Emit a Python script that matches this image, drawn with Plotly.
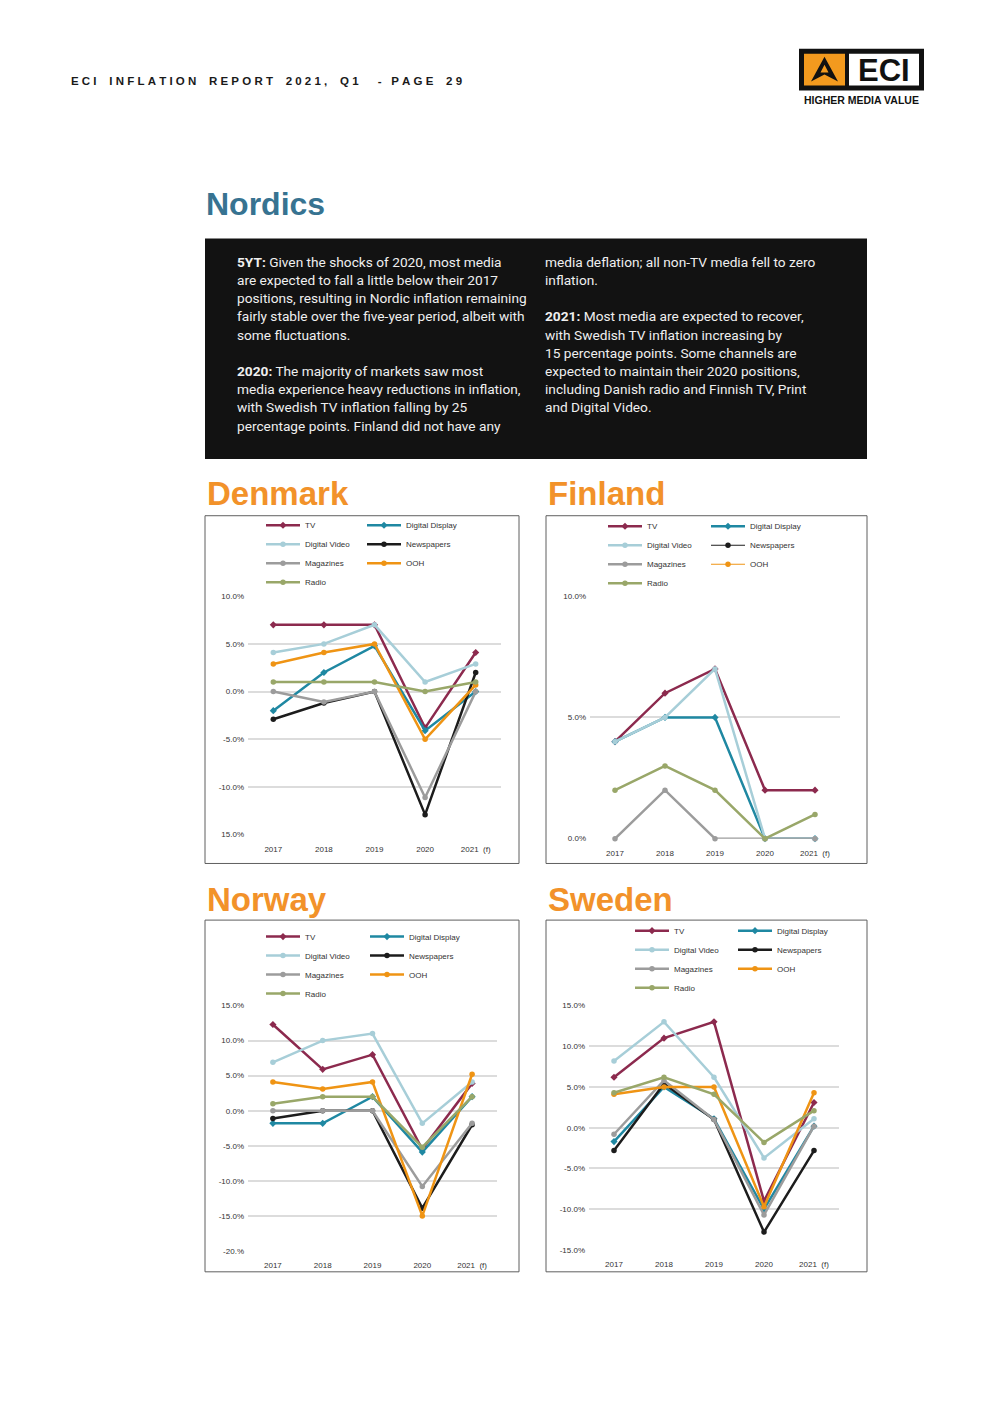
import plotly.graph_objects as go

# page is photographed with the default 8px body margin, so the figure is
# sized and positioned to compensate for it
PAGE_OFF = 8
W, H = 992 - PAGE_OFF, 1403 - PAGE_OFF

# ---------------- data ----------------
YEARS = ["2017", "2018", "2019", "2020", "2021\u00a0\u00a0(f)"]
MEDIA = ["TV", "Digital Display", "Digital Video", "Newspapers", "Magazines", "OOH", "Radio"]
COLORS = ["#8c2a4e", "#1f88a2", "#a7ced8", "#1c1c1c", "#9c9c9c", "#ef9414", "#99a769"]
SYMBOLS = ["diamond", "diamond", "circle", "circle", "circle", "circle", "circle"]

DK_TV = [7, 7, 7, -3.8, 4.1]
DK_DISPLAY = [-2, 2, 4.8, -4.1, 0]
DK_VIDEO = [4.1, 5, 7, 1, 2.9]
DK_NEWS = [-2.9, -1.2, 0, -12.9, 2]
DK_MAGS = [0, -1.1, 0, -11.1, 0]
DK_OOH = [2.9, 4.1, 5, -5, 0.7]
DK_RADIO = [1, 1, 1, 0, 1]

FI_TV = [4, 6, 7, 2, 2]
FI_DISPLAY = [4, 5, 5, 0, 0]
FI_VIDEO = [4, 5, 7, 0, 0]
FI_NEWS = [None, None, None, None, None]
FI_MAGS = [0, 2, 0, 0, 0]
FI_OOH = [None, None, None, None, None]
FI_RADIO = [2, 3, 2, 0, 1]

NO_TV = [12.3, 5.9, 8, -5.5, 3.9]
NO_DISPLAY = [-1.8, -1.8, 2, -5.9, 2]
NO_VIDEO = [6.9, 10, 11, -1.8, 4.1]
NO_NEWS = [-1.1, 0, 0, -13.9, -2]
NO_MAGS = [0, 0, 0, -10.8, -1.8]
NO_OOH = [4.1, 3.1, 4.1, -15, 5.2]
NO_RADIO = [1, 2, 2, -5.2, 2]

SE_TV = [6.2, 11, 13, -9, 3.1]
SE_DISPLAY = [-1.7, 5, 1.1, -10, 0.2]
SE_VIDEO = [8.2, 13, 6.2, -3.7, 1.1]
SE_NEWS = [-2.8, 5.4, 1, -12.8, -2.8]
SE_MAGS = [-0.8, 5.8, 1, -10.7, 0.2]
SE_OOH = [4.1, 5, 5, -9.7, 4.3]
SE_RADIO = [4.3, 6.2, 4.1, -1.8, 2.1]

DK_TICKS = [10, 5, 0, -5, -10, -15]
DK_TICKTEXT = ["10.0%", "5.0%", "0.0%", "-5.0%", "-10.0%", "15.0%"]
FI_TICKS = [10, 5, 0]
FI_TICKTEXT = ["10.0%", "5.0%", "0.0%"]
NO_TICKS = [15, 10, 5, 0, -5, -10, -15, -20]
NO_TICKTEXT = ["15.0%", "10.0%", "5.0%", "0.0%", "-5.0%", "-10.0%", "-15.0%", "-20.%"]
SE_TICKS = [15, 10, 5, 0, -5, -10, -15]
SE_TICKTEXT = ["15.0%", "10.0%", "5.0%", "0.0%", "-5.0%", "-10.0%", "-15.0%"]

# ---------------- layout helpers ----------------
def fx(x):
    return (x - PAGE_OFF) / W

def fy(y):
    return 1 - (y - PAGE_OFF) / H

FONT = "Liberation Sans, Arial, sans-serif"

panels = [
    dict(name="Denmark", series=[DK_TV, DK_DISPLAY, DK_VIDEO, DK_NEWS, DK_MAGS, DK_OOH, DK_RADIO],
         ticks=DK_TICKS, ticktext=DK_TICKTEXT, yr=[-15, 10],
         title=(205, 493), box=(205, 515, 519, 865), plot=(248, 501, 596, 836),
         leg=(261, 362, 510)),
    dict(name="Finland", series=[FI_TV, FI_DISPLAY, FI_VIDEO, FI_NEWS, FI_MAGS, FI_OOH, FI_RADIO],
         ticks=FI_TICKS, ticktext=FI_TICKTEXT, yr=[0, 10],
         title=(546, 493), box=(546, 515, 867, 865), plot=(590, 840, 596, 840),
         leg=(603, 706, 511)),
    dict(name="Norway", series=[NO_TV, NO_DISPLAY, NO_VIDEO, NO_NEWS, NO_MAGS, NO_OOH, NO_RADIO],
         ticks=NO_TICKS, ticktext=NO_TICKTEXT, yr=[-20, 15],
         title=(205, 901), box=(205, 922, 519, 1276), plot=(248, 497, 1008, 1255),
         leg=(261, 365, 924)),
    dict(name="Sweden", series=[SE_TV, SE_DISPLAY, SE_VIDEO, SE_NEWS, SE_MAGS, SE_OOH, SE_RADIO],
         ticks=SE_TICKS, ticktext=SE_TICKTEXT, yr=[-15, 15],
         title=(546, 901), box=(546, 922, 867, 1276), plot=(589, 839, 1008, 1254),
         leg=(630, 733, 918)),
]

LEFT_COL = {"TV", "Digital Video", "Magazines", "Radio"}

fig = go.Figure()
layout = dict(
    width=W, height=H, autosize=False,
    margin=dict(l=0, r=0, t=0, b=0),
    paper_bgcolor="white", plot_bgcolor="rgba(0,0,0,0)",
    showlegend=True,
    font=dict(family=FONT, color="#333333", size=8),
)
shapes = []
annotations = []

for i, p in enumerate(panels):
    k = i + 1
    xa = "x" if k == 1 else f"x{k}"
    ya = "y" if k == 1 else f"y{k}"
    lg_left = "legend" if k == 1 else f"legend{2 * k - 1}"
    lg_right = f"legend{2 * k}"
    for m, name in enumerate(MEDIA):
        vals = p["series"][m]
        empty = all(v is None for v in vals)
        fig.add_trace(go.Scatter(
            x=YEARS, y=vals, name=name, mode="lines+markers",
            line=dict(color=COLORS[m], width=1.2 if empty else 2.5),
            marker=dict(symbol=SYMBOLS[m], size=5.5, color=COLORS[m]),
            xaxis=xa, yaxis=ya, cliponaxis=False, hoverinfo="skip",
            legend=lg_left if name in LEFT_COL else lg_right,
        ))
    x0, x1, yt, yb = p["plot"]
    layout["xaxis" if k == 1 else f"xaxis{k}"] = dict(
        domain=[fx(x0), fx(x1)], anchor=ya, type="category",
        categoryorder="array", categoryarray=YEARS, range=[-0.5, 4.5],
        showgrid=False, zeroline=False, showline=False, ticks="",
        tickfont=dict(family=FONT, size=8, color="#333333"), fixedrange=True,
        ticklabelstandoff=8,
    )
    layout["yaxis" if k == 1 else f"yaxis{k}"] = dict(
        domain=[fy(yb), fy(yt)], anchor=xa, range=p["yr"],
        tickmode="array", tickvals=p["ticks"], ticktext=p["ticktext"],
        showgrid=True, gridcolor="#dcdcdc", gridwidth=2, zeroline=False,
        showline=False, ticks="", tickfont=dict(family=FONT, size=8, color="#333333"),
        fixedrange=True, ticklabelstandoff=3,
    )
    lx, rx, ly = p["leg"]
    for lg, xx in ((lg_left, lx), (lg_right, rx)):
        layout[lg] = dict(
            x=fx(xx), y=fy(ly), xanchor="left", yanchor="top",
            xref="paper", yref="paper", orientation="v",
            bgcolor="rgba(0,0,0,0)", borderwidth=0, traceorder="normal",
            font=dict(family=FONT, size=8, color="#333333"),
            itemwidth=34, itemclick=False, itemdoubleclick=False,
        )
    bx0, by0, bx1, by1 = p["box"]
    shapes.append(dict(type="rect", xref="paper", yref="paper",
                       x0=fx(bx0), x1=fx(bx1), y0=fy(by1), y1=fy(by0),
                       line=dict(color="#5f5f5f", width=1), fillcolor="rgba(0,0,0,0)",
                       layer="below"))
    tx, ty = p["title"]
    annotations.append(dict(text="<b>" + p["name"] + "</b>", x=fx(tx), y=fy(ty),
                            xref="paper", yref="paper", xanchor="left", yanchor="middle",
                            showarrow=False,
                            font=dict(family=FONT, size=33, color="#f2922a")))

# black text panel
shapes.append(dict(type="rect", xref="paper", yref="paper",
                   x0=fx(205), x1=fx(867), y0=fy(458), y1=fy(236),
                   line=dict(width=0), fillcolor="#121212", layer="below"))

LEFT_LINES = [
    "<b>5YT:</b> Given the shocks of 2020, most media",
    "are expected to fall a little below their 2017",
    "positions, resulting in Nordic inflation remaining",
    "fairly stable over the five-year period, albeit with",
    "some fluctuations.",
    "",
    "<b>2020:</b> The majority of markets saw most",
    "media experience heavy reductions in inflation,",
    "with Swedish TV inflation falling by 25",
    "percentage points. Finland did not have any",
]
RIGHT_LINES = [
    "media deflation; all non-TV media fell to zero",
    "inflation.",
    "",
    "<b>2021:</b> Most media are expected to recover,",
    "with Swedish TV inflation increasing by",
    "15 percentage points. Some channels are",
    "expected to maintain their 2020 positions,",
    "including Danish radio and Finnish TV, Print",
    "and Digital Video.",
]
for col_x, lines in ((235, LEFT_LINES), (543, RIGHT_LINES)):
    for j, line in enumerate(lines):
        if not line:
            continue
        annotations.append(dict(text=line, x=fx(col_x), y=fy(259.5 + 18.3 * j),
                                xref="paper", yref="paper", xanchor="left", yanchor="middle",
                                showarrow=False,
                                font=dict(family="Roboto, sans-serif", size=13.7, color="#efefef")))

# page title
annotations.append(dict(text="<b>Nordics</b>", x=fx(204), y=fy(201), xref="paper", yref="paper",
                        xanchor="left", yanchor="middle", showarrow=False,
                        font=dict(family=FONT, size=32, color="#377391")))

# running header
NB = "\u00a0"
def spaced(word):
    return NB.join(list(word))
header = (NB * 4).join(spaced(w) for w in ["ECI", "INFLATION", "REPORT", "2021,", "Q1"])
header += NB * 6 + "-" + NB * 3 + (NB * 4).join(spaced(w) for w in ["PAGE", "29"])
annotations.append(dict(text="<b>" + header + "</b>", x=fx(69), y=fy(77), xref="paper", yref="paper",
                        xanchor="left", yanchor="middle", showarrow=False,
                        font=dict(family=FONT, size=11.5, color="#1a1a1a")))

# logo
shapes.append(dict(type="rect", xref="paper", yref="paper", x0=fx(799), x1=fx(924),
                   y0=fy(87), y1=fy(45), line=dict(width=0), fillcolor="#111111"))
shapes.append(dict(type="rect", xref="paper", yref="paper", x0=fx(804), x1=fx(845),
                   y0=fy(82), y1=fy(50), line=dict(width=0), fillcolor="#f39a1e"))
shapes.append(dict(type="rect", xref="paper", yref="paper", x0=fx(849), x1=fx(919),
                   y0=fy(82), y1=fy(50), line=dict(width=0), fillcolor="#ffffff"))
a_path = (f"M{fx(811)},{fy(78)} L{fx(824.5)},{fy(53)} L{fx(838)},{fy(78)} L{fx(824.5)},{fy(71)} Z "
          f"M{fx(824.5)},{fy(61)} L{fx(820.5)},{fy(69)} L{fx(828.5)},{fy(69)} Z")
shapes.append(dict(type="path", xref="paper", yref="paper", path=a_path,
                   line=dict(width=0), fillcolor="#111111"))
annotations.append(dict(text="<b>ECI</b>", x=fx(884), y=fy(67), xref="paper", yref="paper",
                        xanchor="center", yanchor="middle", showarrow=False,
                        font=dict(family=FONT, size=31, color="#111111")))
annotations.append(dict(text="<b>HIGHER MEDIA VALUE</b>", x=fx(861.5), y=fy(97), xref="paper",
                        yref="paper", xanchor="center", yanchor="middle", showarrow=False,
                        font=dict(family=FONT, size=10.5, color="#111111")))

layout["shapes"] = shapes
layout["annotations"] = annotations
fig.update_layout(**layout)

fig.write_html("out.html")
